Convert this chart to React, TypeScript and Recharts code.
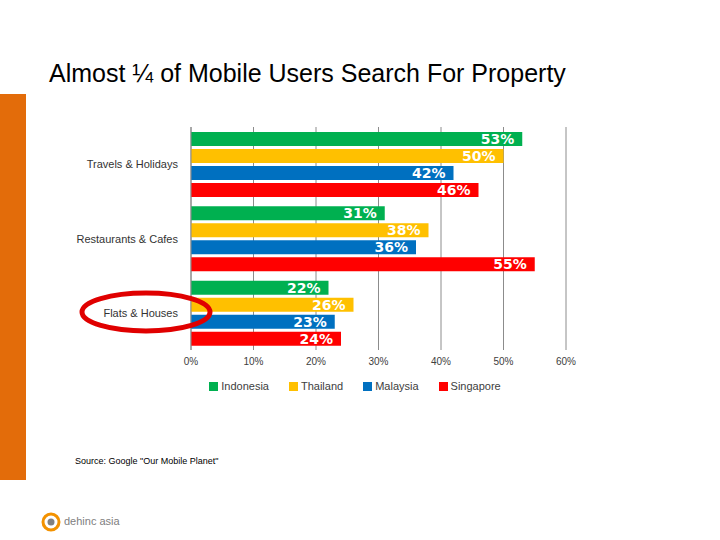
import React from "react";
import { BarChart, Bar, XAxis, YAxis, CartesianGrid, Legend, LabelList } from "recharts";

const categories = ["Travels & Holidays", "Restaurants & Cafes", "Flats & Houses"];
const indonesia = [53, 31, 22];
const thailand = [50, 38, 26];
const malaysia = [42, 36, 23];
const singapore = [46, 55, 24];
const xTicks = [0, 10, 20, 30, 40, 50, 60];

const data = categories.map((name, i) => ({
  name,
  Indonesia: indonesia[i],
  Thailand: thailand[i],
  Malaysia: malaysia[i],
  Singapore: singapore[i],
}));

const series = [
  { key: "Indonesia", color: "#00B050" },
  { key: "Thailand", color: "#FFC000" },
  { key: "Malaysia", color: "#0070C0" },
  { key: "Singapore", color: "#FF0000" },
];

const CategoryTick = (props: any) => {
  const { x, y, payload } = props;
  return (
    <text x={x} y={y} dy={4} textAnchor="end" fontSize={11} fill="#333" fontFamily="'Liberation Sans', Arial">
      {payload.value}
    </text>
  );
};

// legend in series order, shifted right to sit under the bars like the original
const LegendRow = () => (
  <div
    style={{
      display: "flex",
      justifyContent: "center",
      gap: 20,
      fontSize: 11,
      color: "#404040",
      paddingTop: 8,
      paddingLeft: 84,
    }}
  >
    {series.map((s) => (
      <span key={s.key} style={{ display: "flex", alignItems: "center", gap: 3 }}>
        <span style={{ width: 9, height: 9, background: s.color, display: "inline-block" }} />
        {s.key}
      </span>
    ))}
  </div>
);

export default function App() {
  return (
    <div
      style={{
        position: "fixed",
        top: 0,
        left: 0,
        width: 720,
        height: 540,
        background: "#fff",
        fontFamily: "'Liberation Sans', Arial, sans-serif",
        overflow: "hidden",
      }}
    >
      <div style={{ position: "absolute", left: 0, top: 94, width: 26, height: 386, background: "#E36C0A" }} />
      <div style={{ position: "absolute", left: 49, top: 59, fontSize: 25, color: "#000", whiteSpace: "nowrap" }}>
        Almost ¼ of Mobile Users Search For Property
      </div>

      <div style={{ position: "absolute", left: 60, top: 120 }}>
        <BarChart
          width={540}
          height={272}
          data={data}
          layout="vertical"
          margin={{ top: 7, right: 34, bottom: 0, left: 0 }}
          barGap={3}
          barCategoryGap="6%"
        >
          <CartesianGrid horizontal={false} stroke="#8c8c8c" />
          <XAxis
            type="number"
            domain={[0, 60]}
            ticks={xTicks}
            tickFormatter={(v) => `${v}%`}
            axisLine={false}
            tickLine={false}
            height={22}
            tick={{ fontSize: 10, fill: "#404040", fontFamily: "'Liberation Sans', Arial" }}
          />
          <YAxis
            type="category"
            dataKey="name"
            width={131}
            axisLine={{ stroke: "#8c8c8c" }}
            tickLine={false}
            tickMargin={7}
            tick={<CategoryTick />}
          />
          <Legend verticalAlign="bottom" content={<LegendRow />} />
          {series.map((s) => (
            <Bar key={s.key} dataKey={s.key} fill={s.color} barSize={14} isAnimationActive={false}>
              <LabelList
                dataKey={s.key}
                position="insideRight"
                offset={8}
                formatter={(v) => `${v}%`}
                style={{ fill: "#fff", fontWeight: "bold", fontSize: 14, fontFamily: "'DejaVu Sans', Verdana" }}
              />
            </Bar>
          ))}
        </BarChart>
      </div>

      <svg style={{ position: "absolute", left: 0, top: 0 }} width={720} height={540}>
        <ellipse cx={146} cy={312} rx={64} ry={19} fill="none" stroke="#E00000" strokeWidth={5} />
        <circle cx={51} cy={522} r={8} fill="none" stroke="#F39200" strokeWidth={3} />
        <circle cx={51} cy={522} r={3.5} fill="#808080" />
      </svg>

      <div style={{ position: "absolute", left: 75, top: 456, fontSize: 9, color: "#000" }}>
        Source: Google "Our Mobile Planet"
      </div>
      <div style={{ position: "absolute", left: 64, top: 515, fontSize: 11, color: "#808080" }}>dehinc asia</div>
    </div>
  );
}
